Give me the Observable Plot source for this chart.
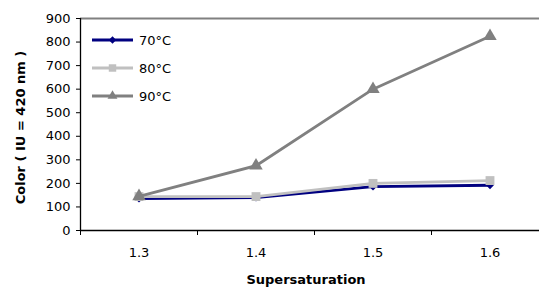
<!DOCTYPE html>
<html><head><meta charset="utf-8">
<script src="https://cdn.jsdelivr.net/npm/d3@7"></script>
<script src="https://cdn.jsdelivr.net/npm/@observablehq/plot@0.6"></script>
<style>
body{margin:0;background:#fff;font-family:"DejaVu Sans",sans-serif;}
#wrap{position:relative;width:539px;height:289px;}
#legend{position:absolute;left:92px;top:26px;font-size:13px;color:#000;}
#legend .row{display:flex;align-items:center;height:28px;}
#legend svg{margin-right:6px;}
</style></head><body>
<div id="wrap"><div id="chart"></div><div id="legend"></div></div>
<script>
const supersaturation = [1.3, 1.4, 1.5, 1.6];
const series = ["70°C", "80°C", "90°C"];
const color70 = [135, 140, 186, 192];
const color80 = [144, 144, 200, 212];
const color90 = [145, 275, 600, 825];
const yTicks = [0, 100, 200, 300, 400, 500, 600, 700, 800, 900];
const colors = ["#000080", "#c0c0c0", "#808080"];
const symbols = ["diamond2", "square", "triangle"];
const sizes = [3.5, 5, 5];

const values = [color70, color80, color90];
const data = [];
series.forEach((s, i) => supersaturation.forEach((x, j) => data.push({series: s, x, y: values[i][j]})));

const W = 539, H = 289;
const mL = 80, mT = 18, mB = 59;
const catW = 117;
const x0 = 1.25, x1 = x0 + (W - mL) / catW * 0.1;

const marks = [
  Plot.ruleY([900], {stroke: "#808080", strokeWidth: 2}),
  Plot.axisY({ticks: yTicks, tickSize: 4, tickPadding: 6, label: null, fontSize: 13, stroke: "#000"}),
  Plot.axisX({ticks: [1.25, 1.35, 1.45, 1.55], tickSize: 5, tickFormat: () => "", label: null}),
  Plot.axisX({ticks: supersaturation, tickSize: 0, tickPadding: 17, tickFormat: d => d.toFixed(1), label: null, fontSize: 13}),
  Plot.ruleY([0], {stroke: "#000", strokeWidth: 1.3}),
  Plot.ruleX([x0], {y1: 0, y2: 900, stroke: "#000", strokeWidth: 1.3}),
];
series.forEach((s, i) => {
  const d = data.filter(r => r.series === s);
  marks.push(Plot.line(d, {x: "x", y: "y", stroke: colors[i], strokeWidth: 2.8}));
  marks.push(Plot.dot(d, {x: "x", y: "y", fill: colors[i], symbol: symbols[i], r: sizes[i]}));
});
marks.push(Plot.text(["Supersaturation"], {frameAnchor: "bottom", dy: 53, dx: -4, fontWeight: "bold", fontSize: 13}));
marks.push(Plot.text(["Color ( IU = 420 nm )"], {frameAnchor: "left", textAnchor: "middle", dx: -60, dy: 3, rotate: -90, fontWeight: "bold", fontSize: 13}));

const chart = Plot.plot({
  width: W, height: H,
  marginLeft: mL, marginRight: 0, marginTop: mT, marginBottom: mB,
  style: {fontFamily: "'DejaVu Sans', sans-serif", fontSize: "13px", background: "#fff"},
  x: {domain: [x0, x1]},
  y: {domain: [0, 900]},
  marks
});
document.getElementById("chart").appendChild(chart);

const legend = document.getElementById("legend");
series.forEach((s, i) => {
  const row = document.createElement("div");
  row.className = "row";
  const sv = d3.create("svg").attr("width", 41).attr("height", 12);
  sv.append("line").attr("x1", 0).attr("x2", 41).attr("y1", 6).attr("y2", 6).attr("stroke", colors[i]).attr("stroke-width", 3);
  const sym = {diamond2: d3.symbolDiamond2, square: d3.symbolSquare2, triangle: d3.symbolTriangle2}[symbols[i]];
  sv.append("path").attr("d", d3.symbol(sym, Math.PI * sizes[i] * sizes[i] * 0.9)()).attr("transform", "translate(20.5,6)").attr("fill", colors[i]);
  row.appendChild(sv.node());
  const t = document.createElement("span"); t.textContent = s; row.appendChild(t);
  legend.appendChild(row);
});
</script></body></html>
